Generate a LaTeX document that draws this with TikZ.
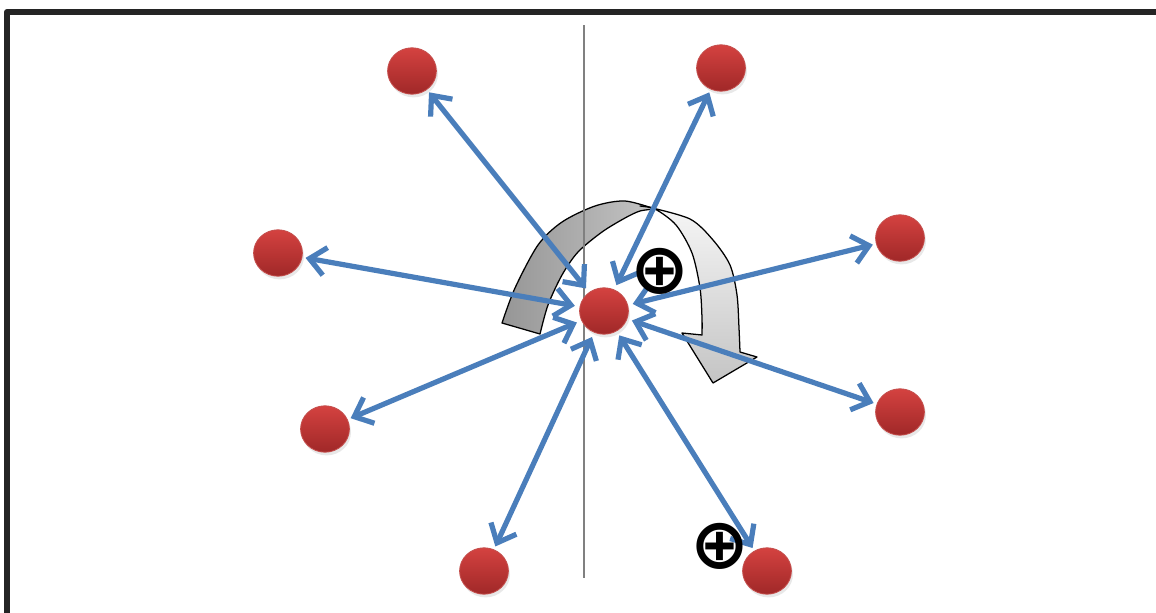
\documentclass[tikz,border=0pt]{standalone}
\usepackage{fontspec}
\newfontfamily\symfont{DejaVu Sans Bold}
\usetikzlibrary{arrows.meta,shapes.geometric,shadows}
\definecolor{arrowblue}{RGB}{74,126,187}
\definecolor{ballline}{RGB}{196,78,76}
\definecolor{balltop}{RGB}{212,66,64}
\definecolor{ballbot}{RGB}{160,40,40}
\definecolor{framecol}{RGB}{36,36,36}
\definecolor{darkL}{RGB}{150,150,150}
\definecolor{darkR}{RGB}{196,196,196}
\definecolor{lightT}{RGB}{246,246,246}
\definecolor{lightB}{RGB}{196,196,196}
\tikzset{
  ball/.style={ellipse, minimum width=1.22cm, minimum height=1.16cm, inner sep=0pt,
    top color=balltop, bottom color=ballbot, draw=ballline, line width=0.6pt,
    drop shadow={opacity=0.18, shadow xshift=0.04cm, shadow yshift=-0.08cm}},
  biarrow/.style={draw=arrowblue, line width=0.13cm,
    {Straight Barb[length=0.4cm,width=0.7cm]}-{Straight Barb[length=0.4cm,width=0.7cm]},
    shorten <=0.12cm, shorten >=0.08cm},
  oplusmark/.style={font=\symfont\fontsize{50}{54}\selectfont, inner sep=0pt},
  bandline/.style={draw=black, line width=0.9pt, line join=round}
}
\begin{document}
\begin{tikzpicture}[x=0.025cm,y=-0.025cm]
\useasboundingbox (0,0) rectangle (1156,612);
% frame
\draw[framecol, line width=0.15cm, line join=round] (7,615) -- (7,12) -- (1160,12);
% curved arrow: dark part
\path[bandline, left color=darkL, right color=darkR]
  plot[smooth] coordinates {(502,323) (515,288) (538,245) (562,222) (595,206) (625,201) (655,209)}
  -- plot[smooth] coordinates {(655,209) (640,211) (625,218) (602,232) (578,252) (562,275) (548,305) (540,334)}
  -- cycle;
% curved arrow: light part
\path[bandline, top color=lightT, bottom color=lightB]
  plot[smooth] coordinates {(648,207) (690,219) (713,240) (730,265) (737,295) (739,328) (740,352)}
  -- (757,357) -- (713,383) -- (682,333) -- (702,335)
  -- plot[smooth] coordinates {(702,335) (702,318) (700,288) (692,253) (676,225) (655,209) (640,206)}
  -- cycle;
% vertical axis
\draw[gray, line width=0.04cm] (584,25) -- (584,578);
% spheres
\node[ball] (c)  at (604,311) {};
\node[ball] (tl) at (412,71) {};
\node[ball] (tr) at (721,68) {};
\node[ball] (l)  at (278,253) {};
\node[ball] (r)  at (900,238) {};
\node[ball] (ll) at (325,429) {};
\node[ball] (lr) at (900,412) {};
\node[ball] (bl) at (484,571) {};
\node[ball] (br) at (767,571) {};
% arrows
\foreach \t in {tl,tr,l,r,ll,lr,bl,br}
  \draw[biarrow] (c) -- (\t);
% markers
\node[oplusmark] (o1) at (660,271) {⊕};
\node[oplusmark] (o2) at (720,546) {⊕};
\end{tikzpicture}
\end{document}
